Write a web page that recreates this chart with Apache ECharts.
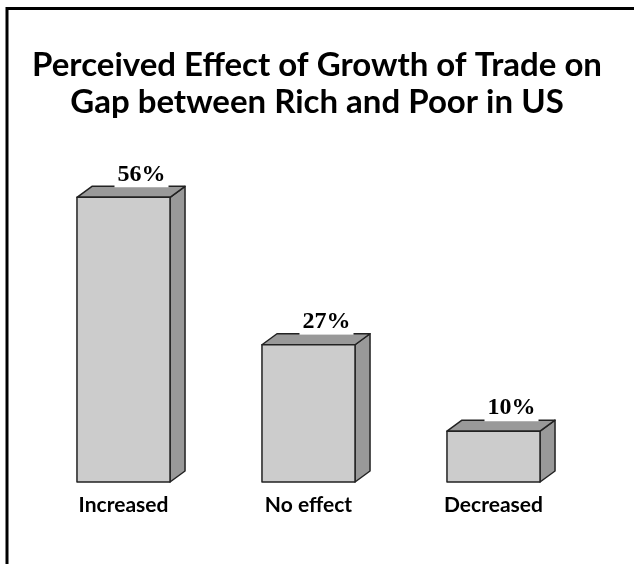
<!DOCTYPE html>
<html>
<head>
<meta charset="utf-8">
<script src="https://cdn.jsdelivr.net/npm/echarts@6/dist/echarts.min.js"></script>
<style>
  html, body { margin: 0; padding: 0; background: #fff; }
  #chart { width: 634px; height: 564px; }
</style>
</head>
<body>
<div id="chart"></div>
<script>
// Survey answers and their shares (percent)
const categories = ['Increased', 'No effect', 'Decreased'];
const shares = [56, 27, 10];

const titleText = 'Perceived Effect of Growth of Trade on\nGap between Rich and Poor in US';

// 3D extrusion of each block, in pixels
const DEPTH_X = 15;
const DEPTH_Y = 11;

const chart = echarts.init(document.getElementById('chart'), null, { renderer: 'canvas' });

function renderBlock(params, api) {
  const idx = api.value(0);
  const val = api.value(1);
  const base = api.coord([idx, 0]);
  const top = api.coord([idx, val]);
  const bw = api.size([1, 0])[0] * 0.503;
  const x0 = base[0] - bw / 2;
  const x1 = base[0] + bw / 2;
  const yT = top[1];
  const yB = base[1];
  const edge = { stroke: '#222', lineWidth: 1.5, lineJoin: 'round' };
  return {
    type: 'group',
    children: [
      {
        type: 'polygon',
        shape: { points: [[x1, yT], [x1 + DEPTH_X, yT - DEPTH_Y], [x1 + DEPTH_X, yB - DEPTH_Y], [x1, yB]] },
        style: Object.assign({ fill: '#999999' }, edge)
      },
      {
        type: 'polygon',
        shape: { points: [[x0, yT], [x0 + DEPTH_X, yT - DEPTH_Y], [x1 + DEPTH_X, yT - DEPTH_Y], [x1, yT]] },
        style: Object.assign({ fill: '#999999' }, edge)
      },
      {
        type: 'rect',
        shape: { x: x0, y: yT, width: bw, height: yB - yT },
        style: Object.assign({ fill: '#cccccc' }, edge)
      },
      {
        type: 'text',
        x: base[0] + 18,
        y: yT - DEPTH_Y + 1,
        style: {
          text: val + '%',
          fill: '#000',
          font: 'bold 24px "Liberation Serif", "Times New Roman", serif',
          align: 'center',
          verticalAlign: 'bottom',
          backgroundColor: '#fff',
          padding: [0, 3, 1, 3]
        }
      }
    ]
  };
}

chart.setOption({
  backgroundColor: '#fff',
  animation: false,
  title: {
    text: titleText,
    left: 'center',
    top: 47,
    padding: [0, 0, 0, 10],
    textStyle: {
      fontFamily: 'Lato',
      fontWeight: 'bold',
      fontSize: 33,
      lineHeight: 37,
      color: '#000'
    }
  },
  grid: { left: 31, right: 48, top: 177, bottom: 82 },
  xAxis: {
    type: 'category',
    data: categories,
    axisLine: { show: false },
    axisTick: { show: false },
    axisLabel: {
      margin: 13,
      color: '#000',
      fontFamily: 'Lato',
      fontWeight: 'bold',
      fontSize: 21
    }
  },
  yAxis: {
    type: 'value',
    min: 0,
    max: 60,
    show: false,
    splitLine: { show: false }
  },
  series: [{
    type: 'custom',
    renderItem: renderBlock,
    encode: { x: 0, y: 1 },
    data: shares.map((v, i) => [i, v])
  }],
  graphic: [
    { type: 'line', shape: { x1: 7, y1: 8.5, x2: 634, y2: 8.5 }, style: { stroke: '#000', lineWidth: 3 } },
    { type: 'line', shape: { x1: 7, y1: 7, x2: 7, y2: 564 }, style: { stroke: '#000', lineWidth: 3 } }
  ]
});
</script>
</body>
</html>
